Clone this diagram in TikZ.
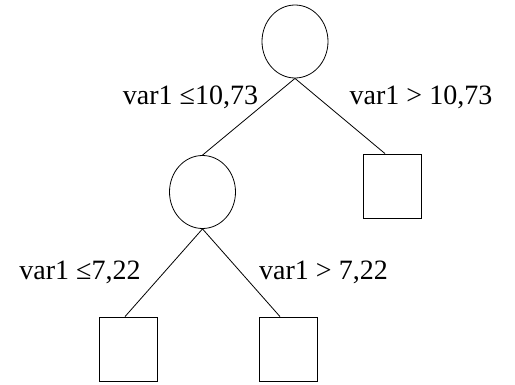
\documentclass[tikz,border=0pt]{standalone}
\usepackage{fontspec}
\setmainfont{Liberation Serif}
\usetikzlibrary{shapes.geometric}
\begin{document}
\begin{tikzpicture}[x=1pt,y=-1pt,line width=0.8pt,
  decision/.style={draw,ellipse,minimum width=66pt,minimum height=73pt,inner sep=0pt},
  leaf/.style={draw,rectangle,minimum width=58pt,minimum height=64pt,inner sep=0pt},
  lbl/.style={anchor=base,inner sep=0pt,font=\fontsize{28}{30}\selectfont}]
\useasboundingbox (0,0) rectangle (515,385);
\node[decision] (root) at (295,41.5) {};
\node[decision] (mid) at (202.5,192) {};
\node[leaf] (r1) at (392.5,186) {};
\node[leaf] (l1) at (128,349) {};
\node[leaf] (l2) at (288,349) {};
\draw (root.south) -- (mid.north);
\draw (root.south) -- ([xshift=-7.5pt]r1.north);
\draw (mid.south) -- ([xshift=-3pt]l1.north);
\draw (mid.south) -- ([xshift=-8pt]l2.north);
\node[lbl] (t1) at (190.5,105) {var1 ≤10,73};
\node[lbl] (t2) at (421,105) {var1 > 10,73};
\node[lbl] (t3) at (80,280) {var1 ≤7,22};
\node[lbl] (t4) at (323.5,280) {var1 > 7,22};
\end{tikzpicture}
\end{document}
